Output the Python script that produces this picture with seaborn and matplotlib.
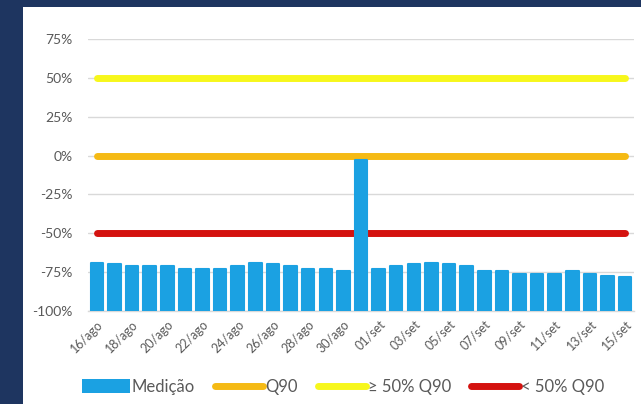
import matplotlib
matplotlib.use("Agg")
import matplotlib.pyplot as plt
import seaborn as sns
import numpy as np
from matplotlib.patches import Rectangle, Patch
from matplotlib.lines import Line2D
from matplotlib.ticker import FuncFormatter, FixedLocator

# ---- data ----
dates = ["16/ago", "17/ago", "18/ago", "19/ago", "20/ago", "21/ago", "22/ago", "23/ago",
         "24/ago", "25/ago", "26/ago", "27/ago", "28/ago", "29/ago", "30/ago", "31/ago",
         "01/set", "02/set", "03/set", "04/set", "05/set", "06/set", "07/set", "08/set",
         "09/set", "10/set", "11/set", "12/set", "13/set", "14/set", "15/set"]
medicao = [-69.0, -69.9, -71.0, -71.0, -71.0, -73.1, -73.1, -73.1, -71.0, -68.8,
           -69.9, -71.0, -73.1, -73.1, -74.2, -2.6, -73.1, -71.0, -69.9, -69.0,
           -69.9, -71.0, -74.2, -74.2, -76.3, -76.3, -76.3, -74.2, -76.3, -77.4, -78.4]
q90 = [0] * len(dates)
acima_50 = [50] * len(dates)
abaixo_50 = [-50] * len(dates)
y_ticks = [-100, -75, -50, -25, 0, 25, 50, 75]
axis_min = -100

# ---- style ----
sns.set_style("white")
plt.rcParams['font.family'] = ['Lato', 'DejaVu Sans']

C_BAR = "#1BA1E2"
C_Q90 = "#F5BA14"
C_YEL = "#F7F71C"
C_RED = "#D4120F"
C_TXT = "#595959"
C_FRAME = "#1E3560"

fig = plt.figure(figsize=(6.41, 4.04), dpi=100)
fig.patch.set_facecolor(C_FRAME)
fig.add_artist(Rectangle((23 / 641, 0), 1, 1 - 7 / 404, transform=fig.transFigure,
                         facecolor="white", edgecolor="none", zorder=-5))

ax = fig.add_axes([88 / 641, 1 - 311 / 404, (634 - 88) / 641, (311 - 39) / 404])
ax.set_facecolor("white")

heights = [v - axis_min for v in medicao]
sns.barplot(x=dates, y=heights, bottom=axis_min, color=C_BAR, saturation=1,
            width=0.71, ax=ax, zorder=3, edgecolor=C_BAR, linewidth=1.5)
for p in ax.patches:
    p.set_joinstyle("round")

xpos = np.arange(len(dates))
for vals, col in [(acima_50, C_YEL), (q90, C_Q90), (abaixo_50, C_RED)]:
    sns.lineplot(x=xpos, y=vals, color=col, linewidth=5, sort=False, ax=ax,
                 zorder=2, solid_capstyle="round")

ax.set_ylim(-100, 75)
ax.set_xlim(-0.5, len(dates) - 0.5)
ax.yaxis.set_major_locator(FixedLocator(y_ticks))
ax.yaxis.set_major_formatter(FuncFormatter(lambda v, p: f"{int(v)}%"))
ax.yaxis.grid(True, color="#D9D9D9", linewidth=1, zorder=0)
ax.set_axisbelow(True)

ax.set_xticks(xpos[::2])
ax.set_xticklabels(dates[::2], rotation=45, ha="right", rotation_mode="anchor")
ax.tick_params(axis="x", labelsize=9, colors=C_TXT, length=0, pad=5)
ax.tick_params(axis="y", labelsize=10, colors=C_TXT, length=0, pad=11)
ax.set_xlabel("")
ax.set_ylabel("")

for s in ["top", "right", "left"]:
    ax.spines[s].set_visible(False)
ax.spines["bottom"].set_color("#D9D9D9")
ax.spines["bottom"].set_linewidth(1)

handles = [
    Patch(facecolor=C_BAR, edgecolor="none"),
    Line2D([0], [0], color=C_Q90, linewidth=5),
    Line2D([0], [0], color=C_YEL, linewidth=5),
    Line2D([0], [0], color=C_RED, linewidth=5),
]
labels = ["Medição", "Q90", "≥ 50% Q90", "< 50% Q90"]
leg = fig.legend(handles, labels, loc="center", bbox_to_anchor=(343 / 641, 1 - 387 / 404),
                 ncol=4, frameon=False, fontsize=12, handlelength=2.9, handleheight=0.9,
                 handletextpad=0.1, columnspacing=1.2)
for t in leg.get_texts():
    t.set_color(C_TXT)

fig.savefig("out.png", dpi=100, facecolor=fig.get_facecolor())
